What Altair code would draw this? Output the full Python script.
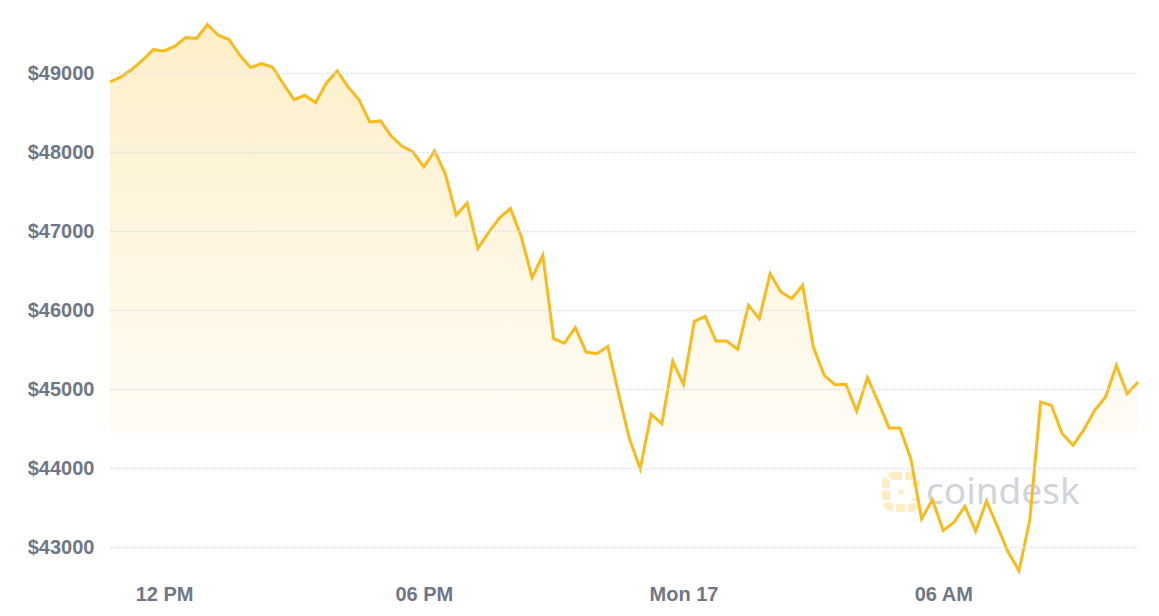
import altair as alt
import pandas as pd

# ---- data (15-minute BTC price samples) ----
START = "2021-05-16 10:45"
prices = [48890, 48953, 49047, 49165, 49300, 49282, 49342, 49452, 49440, 49617,
          49481, 49427, 49228, 49072, 49122, 49080, 48870, 48667, 48722, 48629,
          48877, 49030, 48827, 48667, 48384, 48397, 48203, 48076, 48004, 47814,
          48017, 47722, 47203, 47358, 46785, 46990, 47170, 47290, 46935, 46414,
          46696, 45642, 45586, 45781, 45472, 45451, 45544, 44945, 44375, 43996,
          44684, 44565, 45355, 45063, 45861, 45924, 45612, 45612, 45506, 46063,
          45894, 46464, 46232, 46148, 46316, 45535, 45177, 45059, 45063, 44725,
          45148, 44839, 44510, 44510, 44122, 43362, 43603, 43214, 43320, 43519,
          43206, 43586, 43266, 42941, 42705, 43346, 44839, 44797, 44439, 44291,
          44490, 44734, 44903, 45304, 44945, 45093]
tick_times = [(16, 12), (16, 18), (17, 0), (17, 6)]  # (day, hour) UTC
y_ticks = [43000, 44000, 45000, 46000, 47000, 48000, 49000]
Y_MIN, Y_MAX = 42600, 49750

times = pd.date_range(start=START, periods=len(prices), freq="15min")
df = pd.DataFrame({"time": [t.strftime("%Y-%m-%dT%H:%M:%SZ") for t in times],
                   "price": prices})

W, H = 1028, 565
LINE = "#f9bb1c"
LABEL = "#6f7787"
FONT = "Liberation Sans"

x_enc = alt.X("time:T",
              scale=alt.Scale(type="utc", nice=False),
              axis=alt.Axis(
                  values=[alt.DateTime(year=2021, month=5, date=d, hours=h, utc=True)
                          for d, h in tick_times],
                  labelExpr="utchours(datum.value) == 0 ? utcFormat(datum.value, '%a %d') : utcFormat(datum.value, '%I %p')",
                  title=None, domain=False, ticks=False, grid=False,
                  labelFont=FONT, labelFontSize=20, labelFontWeight="bold",
                  labelColor=LABEL, labelPadding=5, labelFlush=False))
y_enc = alt.Y("price:Q",
              scale=alt.Scale(domain=[Y_MIN, Y_MAX], nice=False, zero=False),
              axis=alt.Axis(values=y_ticks, format="$d", title=None,
                            domain=False, ticks=False, grid=True,
                            gridColor="#d9ddee", gridDash=[2, 2], gridWidth=1.5,
                            labelFont=FONT, labelFontSize=20, labelFontWeight="bold",
                            labelColor=LABEL, labelPadding=16, zindex=1))

gradient = alt.Gradient(
    gradient="linear",
    stops=[alt.GradientStop(color="#fdefc8", offset=0),
           alt.GradientStop(color="#fffcf5", offset=0.735),
           alt.GradientStop(color="rgba(255,255,255,0)", offset=0.74)],
    x1=1, x2=1, y1=0, y2=1)

base = alt.Chart(df)
area = base.mark_area(color=gradient).encode(x=x_enc, y=y_enc, y2=alt.datum(Y_MIN))
line = base.mark_line(color=LINE, strokeWidth=3, strokeJoin="miter").encode(x=x_enc, y=y_enc)

# watermark
wm_text = alt.Chart().mark_text(text="coindesk", font="Noto Sans", fontSize=37,
                                color="#d1d4dc", align="left", baseline="alphabetic").encode(
    x=alt.value(816), y=alt.value(490))
wm_icon = alt.Chart().mark_rect(filled=False, stroke="#fdedc3", strokeWidth=8,
                                cornerRadius=7, strokeDash=[9, 3]).encode(
    x=alt.value(776), x2=alt.value(806), y=alt.value(462), y2=alt.value(494))
wm_gap = alt.Chart().mark_rect(color="white").encode(
    x=alt.value(800), x2=alt.value(812), y=alt.value(472), y2=alt.value(484))
wm_dot = alt.Chart().mark_circle(color="#fdedc3", size=30, opacity=1).encode(
    x=alt.value(791), y=alt.value(478))

chart = alt.layer(area, wm_icon, wm_gap, wm_dot, wm_text, line).properties(
    width=W, height=H,
    background="white",
    padding={"left": 102, "top": 6, "right": 10, "bottom": 28},
    autosize=alt.AutoSizeParams(type="none"),
).configure_view(strokeWidth=0, stroke=None)

chart.save("out.html", embed_options={"renderer": "svg", "actions": False})
